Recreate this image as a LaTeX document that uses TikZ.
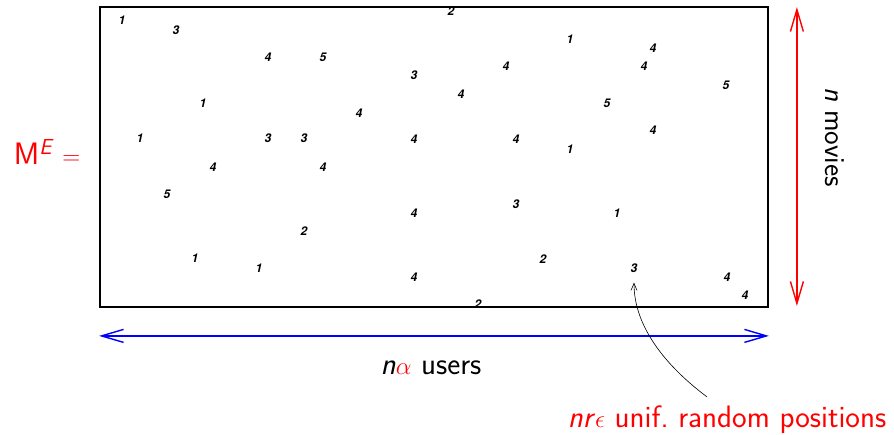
\documentclass[tikz,border=0pt]{standalone}
\usepackage{amsmath}
\usepackage{fontspec}
\newfontfamily\digitfont{TeX Gyre Heros}
\usepackage{tikz}
\usetikzlibrary{arrows.meta, positioning, calc}

\begin{document}
\begin{tikzpicture}[x=1pt, y=-1pt]
  \tikzstyle{entry} = [font=\digitfont\fontsize{12}{12}\selectfont\bfseries\itshape, inner sep=0pt]
  \tikzstyle{textlbl} = [font=\sffamily\fontsize{31}{33}\selectfont, inner sep=0pt]
  \tikzstyle{dimarrow} = [line width=1.4pt, {Straight Barb[length=22pt,width=13pt]}-{Straight Barb[length=22pt,width=13pt]}]

  \useasboundingbox (0,0) rectangle (894,434);

  % the rating matrix
  \node [draw, line width=1.8pt, minimum width=668pt, minimum height=300pt, inner sep=0pt] (mat) at (434,157) {};

  % observed entries
  \foreach \x/\y/\v [count=\i] in {122/20/1, 176/30/3, 268/57/4, 323/57/5, 203/103/1, 359/113/4,
      140/138/1, 268/138/3, 304/138/3, 451/11/2, 570/39/1, 653/48/4, 506/66/4, 644/66/4,
      414/75/3, 726/85/5, 461/94/4, 607/103/5, 653/130/4, 414/139/4, 516/139/4, 570/149/1,
      213/167/4, 323/167/4, 167/194/5, 304/231/2, 195/258/1, 259/268/1, 516/204/3, 414/213/4,
      617/213/1, 543/259/2, 414/277/4, 727/277/4, 745/295/4, 478/304/2}
    \node [entry] (e\i) at (\x,\y) {\v};
  \node [entry] (picked) at (634,268) {3};

  \node [textlbl, red] (lhs) at (47,152) {M$^{\text{\itshape E}}$\,\,$=$};

  % dimensions
  \draw [dimarrow, blue] ([yshift=-28pt]mat.south west) -- ([yshift=-28pt]mat.south east);
  \node [textlbl] (users) at (431,368) {\textit{n}\textcolor{red}{$\alpha$} users};

  \draw [dimarrow, red] ([xshift=28pt,yshift=-1pt]mat.north east) -- ([xshift=28pt,yshift=2pt]mat.south east);
  \node [textlbl, rotate=-90, font=\sffamily\fontsize{29}{31}\selectfont] (movies) at (835,137) {\textit{n} movies};

  % sampled positions
  \node [textlbl, red] (positions) at (727,420) {\textit{nr}$\epsilon$ unif.\ random positions};
  \coordinate (tail) at ([xshift=-20pt,yshift=9pt]positions.north);
  \draw [-{Straight Barb[length=7pt,width=6pt]}, line width=0.6pt] (tail) .. controls +(-40,-30) and +(0,45) .. ([yshift=-10pt]picked.south);
\end{tikzpicture}
\end{document}
